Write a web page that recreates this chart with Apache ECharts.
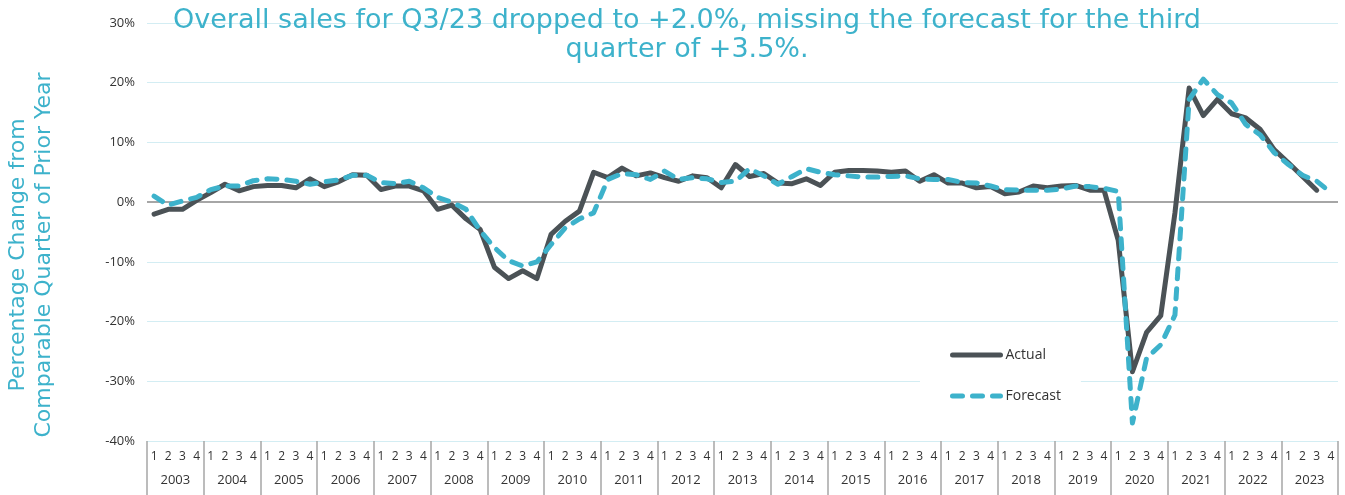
<!DOCTYPE html>
<html lang="en">
  <head>
    <meta charset="UTF-8" />
    <title>Sales vs Forecast</title>
    <script src="https://cdn.jsdelivr.net/npm/echarts@6/dist/echarts.min.js"></script>
    <style>
      html,
      body {
        margin: 0;
        padding: 0;
        background: #fff;
      }
      #main {
        width: 1345px;
        height: 495px;
      }
    </style>
  </head>
  <body>
    <div id="main"></div>
  </body>
  <script>
    //年份 / 季度
    const years = [
      "2003", "2004", "2005", "2006", "2007", "2008", "2009", "2010", "2011", "2012", "2013",
      "2014", "2015", "2016", "2017", "2018", "2019", "2020", "2021", "2022", "2023",
    ];
    const quarters = ["1", "2", "3", "4"];
    const yTicks = [-40, -30, -20, -10, 0, 10, 20, 30];
    //实际 (2003 Q1 - 2023 Q3)
    const actual = [
      -2.0, -1.2, -1.2, 0.3, 1.6, 3.0, 1.9, 2.6, 2.8, 2.8, 2.4, 3.9, 2.6, 3.4, 4.6, 4.5,
      2.1, 2.7, 2.7, 1.9, -1.2, -0.5, -2.8, -4.6, -10.9, -12.8, -11.5, -12.8, -5.4, -3.2,
      -1.5, 5.0, 4.1, 5.7, 4.4, 4.9, 4.1, 3.5, 4.4, 4.1, 2.4, 6.3, 4.3, 4.8, 3.2, 3.1, 3.9,
      2.8, 5.0, 5.3, 5.3, 5.2, 5.0, 5.2, 3.5, 4.6, 3.2, 3.2, 2.4, 2.6, 1.4, 1.7, 2.7, 2.4,
      2.7, 2.8, 2.0, 2.0, -6.4, -28.4, -21.8, -19.0, -1.8, 19.1, 14.5, 17.2, 14.8, 14.1,
      12.2, 8.8, 6.6, 4.3, 2.0, null,
    ];
    //预测 (2003 Q1 - 2023 Q4)
    const forecast = [
      1.0, -0.5, 0.2, 0.8, 2.1, 2.7, 2.7, 3.6, 3.9, 3.8, 3.5, 3.0, 3.4, 3.7, 4.5, 4.5, 3.3,
      3.1, 3.5, 2.4, 0.8, 0.0, -1.2, -4.8, -7.6, -9.8, -10.7, -10.0, -7.1, -4.3, -2.8, -1.8,
      3.8, 4.8, 4.6, 3.8, 5.2, 3.8, 4.1, 3.9, 3.3, 3.5, 5.6, 4.4, 3.0, 4.3, 5.6, 5.0, 4.6,
      4.4, 4.2, 4.2, 4.3, 4.4, 3.9, 3.8, 3.8, 3.3, 3.2, 2.7, 2.1, 2.0, 2.0, 2.0, 2.2, 2.7,
      2.6, 2.3, 1.8, -37.0, -26.1, -23.9, -18.9, 17.2, 20.6, 18.0, 16.6, 13.0, 11.3, 8.3,
      6.3, 4.5, 3.5, 1.6,
    ];

    const teal = "#3db2cb";
    const dark = "#4b5256";
    const fontFamily = "'Open Sans', sans-serif";
    const wideFont = "'DejaVu Sans', sans-serif";

    //季度类目
    let quarterCats = [];
    years.forEach((y) => {
      quarters.forEach((q) => {
        quarterCats.push(y + "-" + q);
      });
    });

    var chartDom = document.getElementById("main");
    var myChart = echarts.init(chartDom);
    var option;

    option = {
      animation: false,
      textStyle: { fontFamily: fontFamily },
      title: {
        text: "Overall sales for Q3/23 dropped to +2.0%, missing the forecast for the third\nquarter of +3.5%.",
        left: 682,
        textAlign: "center",
        top: 1,
        textStyle: {
          color: teal,
          fontSize: 27,
          fontWeight: "normal",
          lineHeight: 29,
          fontFamily: wideFont,
        },
      },
      grid: {
        left: 147,
        right: 7,
        top: 23,
        bottom: 54,
      },
      legend: {
        orient: "vertical",
        left: 920,
        top: 340,
        padding: [8, 20, 8, 30],
        backgroundColor: "#fff",
        itemWidth: 48,
        itemHeight: 14,
        itemGap: 27,
        itemStyle: { opacity: 0 },
        lineStyle: { width: 5 },
        textStyle: { color: "#333", fontSize: 14 },
        data: ["Actual", "Forecast"],
      },
      graphic: [
        {
          type: "text",
          x: 31,
          y: 255,
          rotation: Math.PI / 2,
          style: {
            text: "Percentage Change from\nComparable Quarter of Prior Year",
            fill: teal,
            font: "22px " + wideFont,
            lineHeight: 26,
            textAlign: "center",
            textVerticalAlign: "middle",
          },
        },
      ],
      xAxis: [
        {
          type: "category",
          position: "bottom",
          data: quarterCats,
          boundaryGap: true,
          axisLine: { show: false, onZero: false },
          axisTick: { show: false },
          axisLabel: {
            interval: 0,
            margin: 10,
            color: "#333",
            fontSize: 12,
            formatter: function (v) {
              return v.split("-")[1];
            },
          },
        },
        {
          type: "category",
          position: "bottom",
          data: years,
          boundaryGap: true,
          axisLine: { show: false, onZero: false },
          axisTick: {
            show: true,
            interval: 0,
            length: 54,
            lineStyle: { color: "#a6a6a6", width: 1.5 },
          },
          axisLabel: {
            interval: 0,
            margin: 33,
            color: "#333",
            fontSize: 13,
          },
        },
      ],
      yAxis: {
        type: "value",
        min: yTicks[0],
        max: yTicks[yTicks.length - 1],
        interval: 10,
        axisLine: { show: false },
        axisTick: { show: false },
        axisLabel: {
          margin: 12,
          color: "#333",
          fontSize: 13,
          formatter: "{value}%",
        },
        splitLine: {
          lineStyle: { color: "#d3edf3", width: 1.2 },
        },
      },
      series: [
        {
          name: "Actual",
          type: "line",
          xAxisIndex: 0,
          data: actual,
          symbol: "none",
          color: dark,
          lineStyle: { color: dark, width: 5, cap: "round", join: "round" },
          markLine: {
            silent: true,
            symbol: "none",
            label: { show: false },
            lineStyle: { color: "#a6a6a6", width: 2, type: "solid" },
            data: [{ yAxis: 0 }],
            z: 1,
          },
        },
        {
          name: "Forecast",
          type: "line",
          xAxisIndex: 0,
          data: forecast,
          symbol: "none",
          color: teal,
          lineStyle: {
            color: teal,
            width: 5,
            type: [10, 10],
            cap: "round",
            join: "round",
          },
        },
      ],
    };
    option && myChart.setOption(option);
  </script>
</html>
